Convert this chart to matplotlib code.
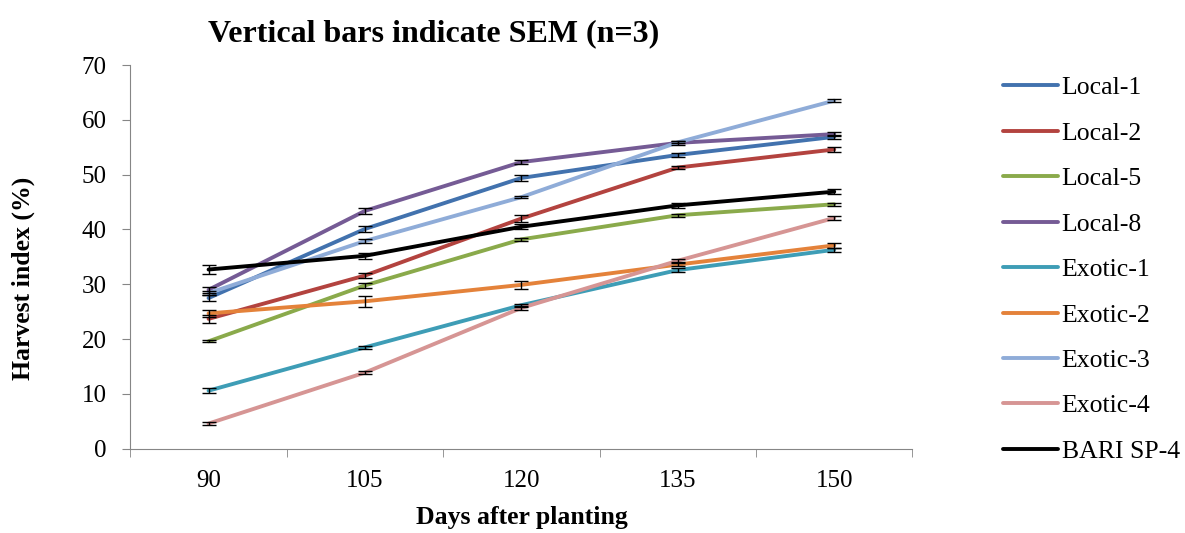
import matplotlib.pyplot as plt
import numpy as np

plt.rcParams['font.family'] = ['Liberation Serif', 'DejaVu Serif']

days = ['90', '105', '120', '135', '150']

names = ['Local-1', 'Local-2', 'Local-5', 'Local-8', 'Exotic-1',
         'Exotic-2', 'Exotic-3', 'Exotic-4', 'BARI SP-4']

local_1 = [27.5, 40.1, 49.4, 53.6, 56.9]
local_2 = [23.7, 31.6, 42.0, 51.3, 54.6]
local_5 = [19.6, 29.8, 38.2, 42.6, 44.6]
local_8 = [29.0, 43.4, 52.3, 55.8, 57.4]
exotic_1 = [10.6, 18.5, 26.2, 32.6, 36.3]
exotic_2 = [24.7, 26.9, 29.9, 33.6, 37.1]
exotic_3 = [28.4, 37.9, 45.9, 55.9, 63.5]
exotic_4 = [4.6, 13.9, 25.7, 34.3, 42.1]
bari_sp4 = [32.7, 35.2, 40.5, 44.4, 46.9]

sem_local_1 = [0.6, 0.5, 0.5, 0.3, 0.4]
sem_local_2 = [0.7, 0.5, 0.6, 0.3, 0.4]
sem_local_5 = [0.2, 0.5, 0.3, 0.3, 0.3]
sem_local_8 = [0.6, 0.5, 0.3, 0.3, 0.3]
sem_exotic_1 = [0.5, 0.3, 0.3, 0.4, 0.4]
sem_exotic_2 = [0.6, 1.0, 0.7, 0.3, 0.4]
sem_exotic_3 = [0.4, 0.3, 0.2, 0.2, 0.3]
sem_exotic_4 = [0.3, 0.3, 0.3, 0.3, 0.3]
sem_bari_sp4 = [0.9, 0.5, 0.5, 0.4, 0.4]

colors = ['#4272AE', '#B3433F', '#8AAA4B', '#755B95', '#3E9DB6',
          '#E4823A', '#8FACD8', '#D69594', '#000000']

series = [local_1, local_2, local_5, local_8, exotic_1,
          exotic_2, exotic_3, exotic_4, bari_sp4]
sems = [sem_local_1, sem_local_2, sem_local_5, sem_local_8, sem_exotic_1,
        sem_exotic_2, sem_exotic_3, sem_exotic_4, sem_bari_sp4]

fig = plt.figure(figsize=(11.85, 5.33), dpi=100)
ax = fig.add_axes([0.110, 0.158, 0.660, 0.720])

x = np.arange(len(days))
for name, vals, err, c in zip(names, series, sems, colors):
    ax.plot(x, vals, color=c, lw=2.8, label=name, solid_capstyle='round')
    ax.errorbar(x, vals, yerr=err, fmt='none', ecolor='black',
                elinewidth=1.0, capsize=5, capthick=1.0, zorder=3)

ax.set_xlim(-0.5, len(days) - 0.5)
ax.set_ylim(0, 70)
ax.set_yticks(np.arange(0, 71, 10))
ax.set_xticks(x)
ax.set_xticklabels(days)
ax.set_xticks(np.arange(-0.5, len(days), 1), minor=True)
ax.tick_params(axis='x', which='major', length=0, labelsize=18, pad=15)
ax.tick_params(axis='x', which='minor', length=6, direction='out', color='#868686')
ax.tick_params(axis='y', length=6, direction='out', color='#868686', labelsize=18, pad=11)

for s in ['top', 'right']:
    ax.spines[s].set_visible(False)
for s in ['left', 'bottom']:
    ax.spines[s].set_color('#868686')

ax.set_xlabel('Days after planting', fontsize=18.5, fontweight='bold')
ax.xaxis.set_label_coords(0.5, -0.148)
ax.set_ylabel('Harvest index (%)', fontsize=18.5, fontweight='bold')
ax.yaxis.set_label_coords(-0.122, 0.445)
fig.text(0.366, 0.936, 'Vertical bars indicate SEM (n=3)', fontsize=23,
         fontweight='bold', ha='center', va='center')

fig.legend(loc='upper left', bbox_to_anchor=(0.846, 0.857), frameon=False,
           fontsize=18.5, handlelength=2.15, handletextpad=0.15,
           labelspacing=0.875, borderpad=0, borderaxespad=0)

fig.savefig('out.png', dpi=100)
